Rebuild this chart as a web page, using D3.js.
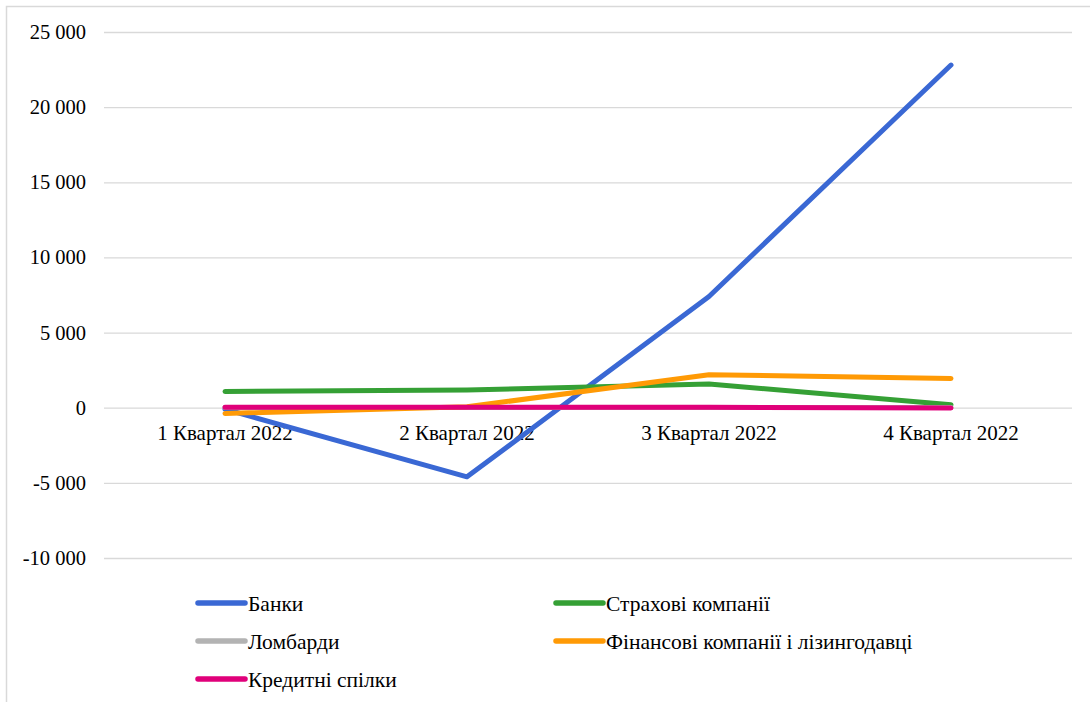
<!DOCTYPE html>
<html>
<head>
<meta charset="utf-8">
<script src="https://cdn.jsdelivr.net/npm/d3@7"></script>
<style>
	body { margin: 0; background: #fff; }
</style>
</head>
<body>
<svg id="chart" width="1090" height="702"></svg>
<script>
// categories & series
const quarters = ["1 Квартал 2022", "2 Квартал 2022", "3 Квартал 2022", "4 Квартал 2022"];
const seriesNames = ["Банки", "Страхові компанії", "Ломбарди", "Фінансові компанії і лізингодавці", "Кредитні спілки"];
const banks = [-100, -4600, 7400, 22800];
const insurance = [1080, 1180, 1580, 200];
const pawnshops = [20, 20, 20, 10];
const finance = [-380, 60, 2200, 1950];
const creditUnions = [30, 30, 30, -20];
const yTicks = [-10000, -5000, 0, 5000, 10000, 15000, 20000, 25000];

const colors = ["#3a68d4", "#35a035", "#b3b3b3", "#ff9a05", "#e0007a"];
const allSeries = [banks, insurance, pawnshops, finance, creditUnions];

const FONT = "'Liberation Serif', 'Times New Roman', serif";
const FSIZE = "20.5px";

const svg = d3.select("#chart");

// frame
svg.append("rect")
	.attr("x", 6.5).attr("y", 6.5)
	.attr("width", 1200).attr("height", 800)
	.attr("fill", "none").attr("stroke", "#d9d9d9").attr("stroke-width", 1.5);

const plot = { left: 104, right: 1072, top: 32, bottom: 558 };

const x = d3.scaleBand().domain(quarters).range([plot.left, plot.right]);
const y = d3.scaleLinear().domain([-10000, 25000]).range([plot.bottom, plot.top]);

// "25 000", "-5 000"
const fmt = v => (v < 0 ? "-" : "") + d3.format(",")(Math.abs(v)).replace(/,/g, " ");

// y axis (gridlines + labels)
const yAxis = svg.append("g")
	.attr("transform", `translate(${plot.left},0)`)
	.call(d3.axisLeft(y).tickValues(yTicks).tickSize(-(plot.right - plot.left)).tickPadding(18).tickFormat(fmt));
yAxis.select(".domain").remove();
yAxis.selectAll(".tick line").attr("stroke", "#d9d9d9").attr("stroke-width", 1.3);
yAxis.selectAll(".tick text")
	.attr("fill", "#000")
	.style("font-size", FSIZE).style("font-family", FONT);

// x axis labels below zero line
const xAxis = svg.append("g")
	.attr("transform", `translate(0,${y(0)})`)
	.call(d3.axisBottom(x).tickSize(0).tickPadding(17));
xAxis.select(".domain").remove();
xAxis.selectAll(".tick text")
	.attr("fill", "#000")
	.style("font-size", "21px").style("font-family", FONT);

// lines
const line = d3.line()
	.x((d, i) => x(quarters[i]) + x.bandwidth() / 2)
	.y(d => y(d));

svg.append("g").selectAll("path")
	.data(allSeries)
	.join("path")
	.attr("d", d => line(d))
	.attr("fill", "none")
	.attr("stroke", (d, i) => colors[i])
	.attr("stroke-width", 5)
	.attr("stroke-linecap", "round")
	.attr("stroke-linejoin", "round");

// legend
const legendPos = [[198, 603], [556, 603], [198, 641], [556, 641], [198, 679]];
const legend = svg.append("g").selectAll("g")
	.data(seriesNames)
	.join("g")
	.attr("transform", (d, i) => `translate(${legendPos[i][0]},${legendPos[i][1]})`);
legend.append("line")
	.attr("x1", 0).attr("x2", 47)
	.attr("stroke", (d, i) => colors[i])
	.attr("stroke-width", 5.5)
	.attr("stroke-linecap", "round");
legend.append("text")
	.attr("x", 50).attr("dy", "0.35em")
	.attr("fill", "#000")
	.style("font-size", "21.5px").style("font-family", FONT)
	.text(d => d);
</script>
</body>
</html>
